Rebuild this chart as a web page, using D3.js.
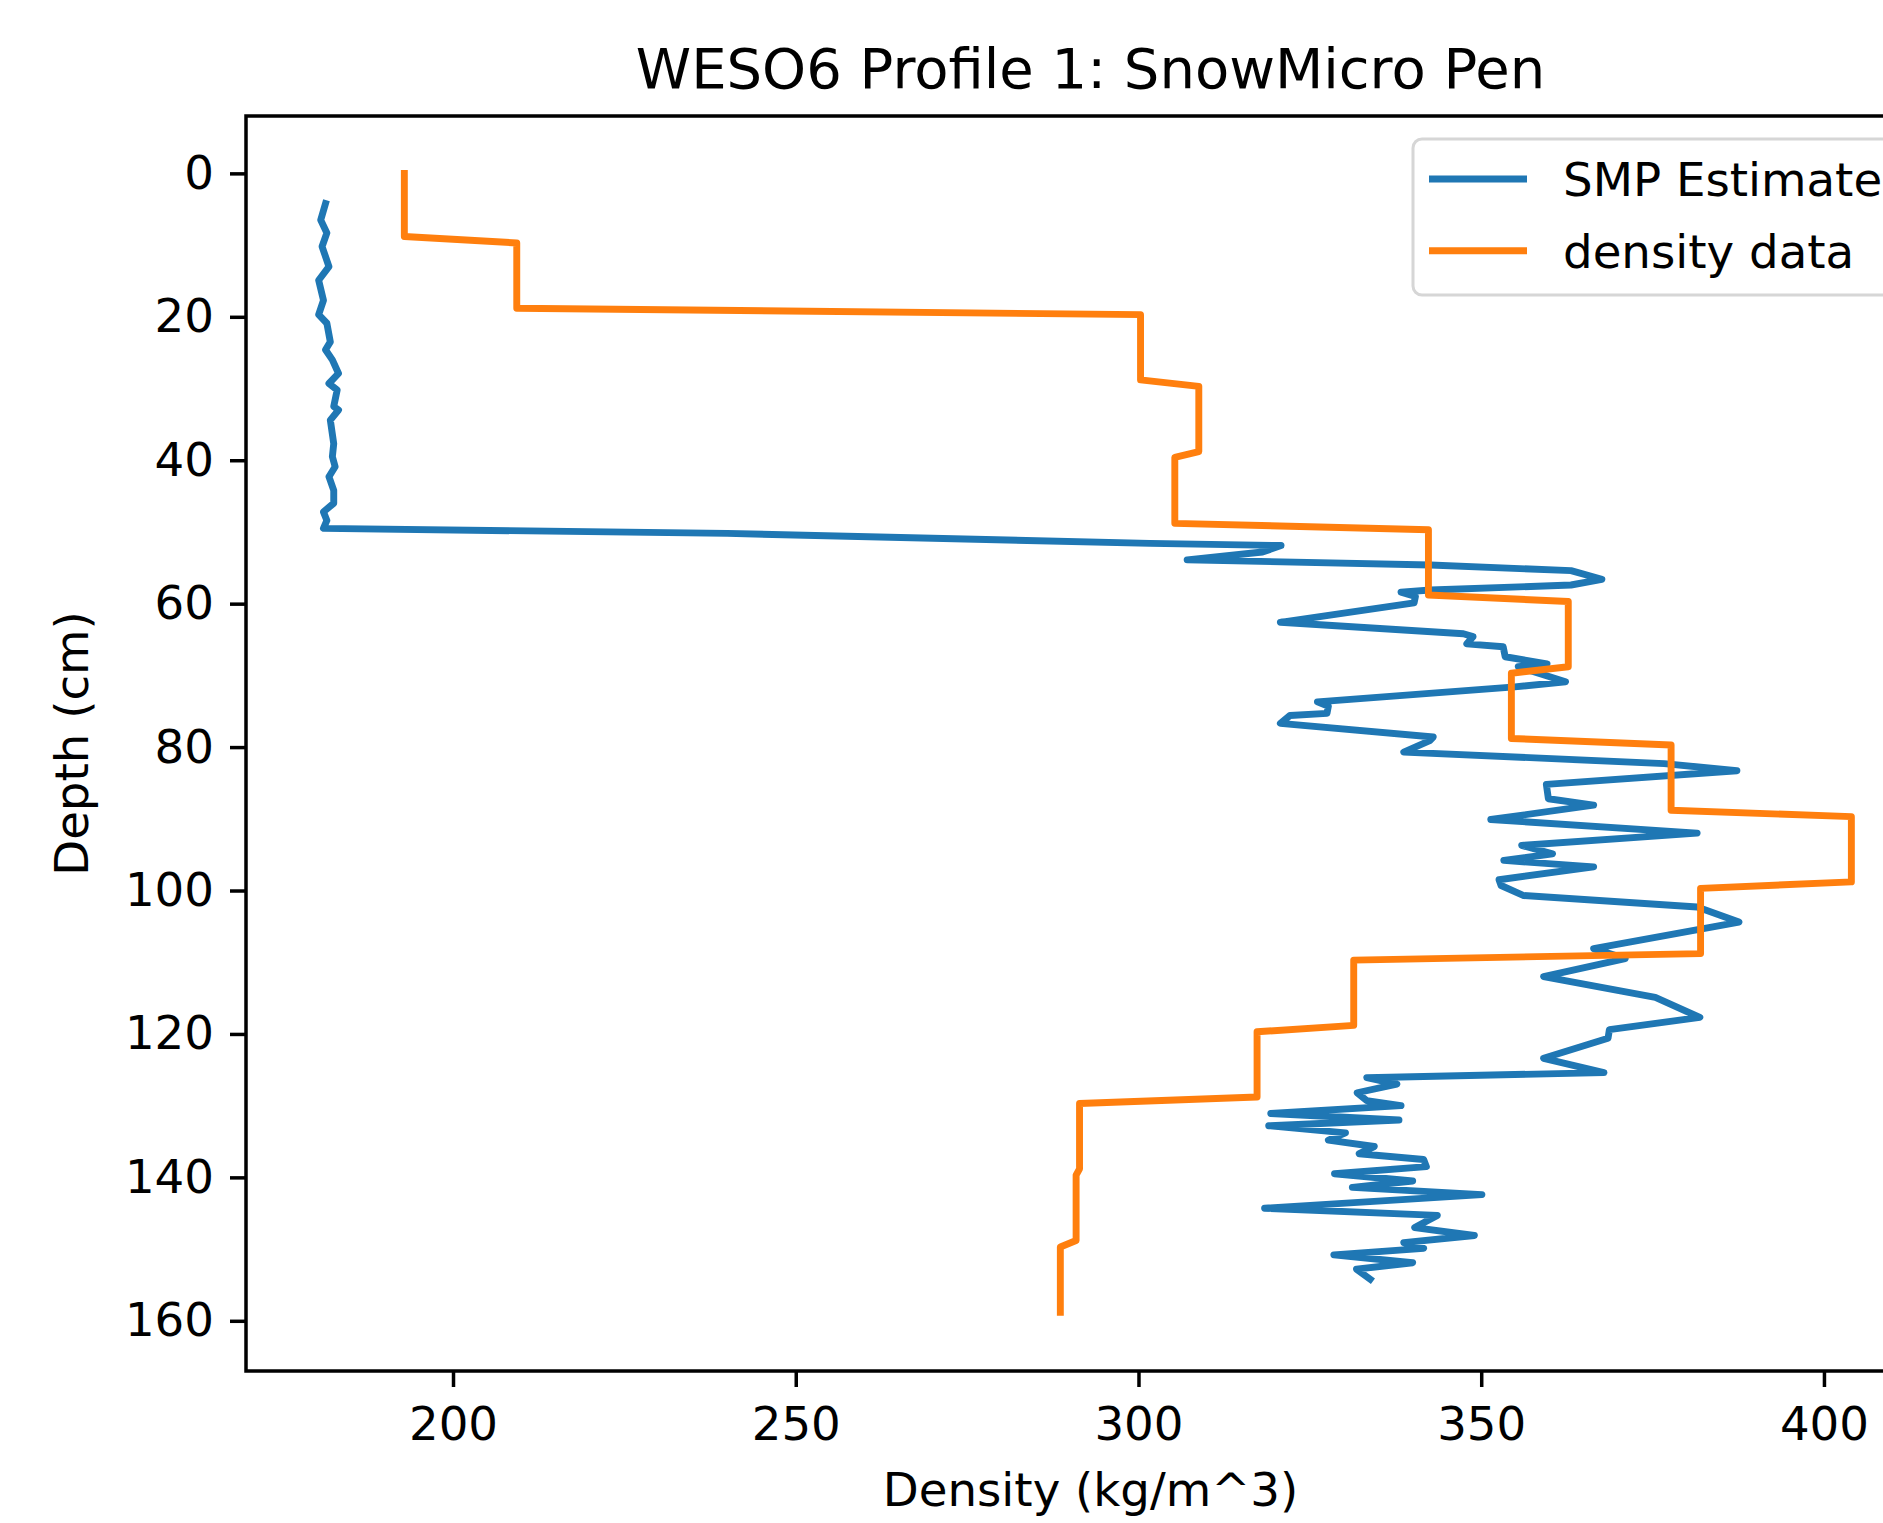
<!DOCTYPE html>
<html>
<head>
<meta charset="utf-8">
<script src="https://cdn.jsdelivr.net/npm/d3@7"></script>
<style>
  html, body { margin: 0; padding: 0; background: #ffffff; overflow: hidden; }
  svg { display: block; }
  text { font-family: "DejaVu Sans", sans-serif; fill: #000; }
</style>
</head>
<body>
<script>
// ---------- data ----------
const titleText = "WESO6 Profile 1: SnowMicro Pen";
const xLabel = "Density (kg/m^3)";
const yLabel = "Depth (cm)";
const seriesNames = ["SMP Estimate", "density data"];
const seriesColors = ["#1f77b4", "#ff7f0e"];

const xTicks = [200, 250, 300, 350, 400];
const yTicks = [0, 20, 40, 60, 80, 100, 120, 140, 160];

// SMP estimate (blue): depth (cm) and density (kg/m^3)
const smpDepth = [4.2, 6.5, 8.3, 10.2, 13.0, 14.9, 17.7, 19.7, 20.9, 23.5, 24.6, 26.0, 27.9, 29.3, 30.2, 32.5, 33.0, 34.4, 37.7, 39.5, 40.9, 42.3, 44.2, 46.0, 47.2, 48.4, 49.5,
  50.2, 51.6, 51.9, 52.8, 53.9, 54.6, 55.4, 56.6, 57.4, 58.1, 58.4, 59.0, 59.9, 62.6, 64.2, 64.6, 65.6, 66.0, 67.4, 68.4, 68.8, 70.9, 71.6, 73.7, 74.3, 75.3, 75.6, 76.7,
  78.6, 79.1, 80.7, 82.3, 83.3, 85.2, 87.2, 88.1, 90.1, 92.0, 93.7, 94.9, 95.8, 96.7, 98.5, 99.3, 100.7, 102.3, 104.4, 108.1, 109.5, 112.0, 114.9, 117.7, 119.4, 120.6, 123.4,
  125.4, 126.1, 127.0, 128.2, 129.3, 130.0, 131.1, 132.0, 132.8, 133.8, 134.8, 135.7, 136.7, 137.5, 138.5, 139.5, 140.5, 141.4, 142.4, 144.3, 145.3, 147.0, 148.1, 149.1,
  149.9, 150.8, 151.9, 152.8, 154.2];
const smpDensity = [181.4, 180.7, 181.6, 180.9, 181.9, 180.4, 181.1, 180.4, 181.6, 182.1, 181.4, 182.4, 183.3, 181.9, 183.1, 182.6, 183.3, 182.1, 182.6, 182.4, 182.8, 181.9, 182.6, 182.6, 181.1, 181.6, 181.1,
  240.0, 301.7, 320.8, 318.1, 307.1, 342.6, 363.1, 367.6, 363.1, 342.6, 338.3, 340.4, 340.2, 320.7, 347.4, 348.8, 347.9, 353.2, 353.5, 359.6, 355.4, 362.3, 354.9, 326.1, 327.7, 327.5, 322.1, 320.7,
  343.0, 342.5, 338.7, 376.7, 387.3, 359.5, 359.8, 366.4, 351.4, 381.5, 355.9, 360.4, 353.3, 366.4, 352.6, 352.9, 356.2, 381.5, 387.6, 366.4, 371.0, 359.1, 375.4, 381.9, 368.7, 368.5, 359.1,
  367.9, 333.3, 337.7, 331.9, 333.3, 338.3, 319.3, 338.0, 319.0, 330.2, 327.7, 334.4, 332.2, 341.6, 342.0, 328.6, 340.0, 331.2, 350.1, 318.4, 343.6, 340.3, 349.0, 338.7,
  341.6, 328.5, 340.0, 331.8, 333.8];

// measured density data (orange): layer top/bottom points
const densDepth = [0, 8.8, 9.7, 18.8, 19.7, 28.8, 29.7, 38.8, 39.6, 48.8, 49.7, 58.8, 59.7, 68.8, 69.7, 78.8, 79.7, 88.8, 89.7, 98.8, 99.7, 108.8, 109.7, 118.8, 119.7, 128.8, 129.7, 138.8, 139.7, 148.8, 149.7, 158.8];
const densValue = [192.9, 192.9, 209.3, 209.3, 300.3, 300.3, 308.8, 308.8, 305.3, 305.3, 342.3, 342.3, 362.7, 362.7, 354.4, 354.4, 377.7, 377.7, 404.0, 404.0, 382.0, 382.0, 331.4, 331.4, 317.3, 317.3, 291.4, 291.4, 290.9, 290.9, 288.6, 288.6];

// ---------- layout ----------
const W = 1883, H = 1523;
const plot = { left: 246, top: 116, right: 1935, bottom: 1371 };
const FS = 46.7;

const svg = d3.select("body").append("svg")
  .attr("width", W).attr("height", H)
  .attr("viewBox", `0 0 ${W} ${H}`);
svg.append("rect").attr("width", W).attr("height", H).attr("fill", "#fff");

const x = d3.scaleLinear().domain([169.8, 416.2]).range([plot.left, plot.right]);
const y = d3.scaleLinear().domain([-8.0, 167.0]).range([plot.top, plot.bottom]);

// lines
const smp = smpDepth.map((d, i) => ({ depth: d, dens: smpDensity[i] }));
const dens = densDepth.map((d, i) => ({ depth: d, dens: densValue[i] }));
const line = d3.line().x(d => x(d.dens)).y(d => y(d.depth));

const clip = svg.append("clipPath").attr("id", "clip").append("rect")
  .attr("x", plot.left).attr("y", plot.top)
  .attr("width", plot.right - plot.left).attr("height", plot.bottom - plot.top);

const g = svg.append("g").attr("clip-path", "url(#clip)");
g.append("path").datum(smp).attr("d", line)
  .attr("fill", "none").attr("stroke", seriesColors[0])
  .attr("stroke-width", 6.9).attr("stroke-linejoin", "round").attr("stroke-linecap", "square");
g.append("path").datum(dens).attr("d", line)
  .attr("fill", "none").attr("stroke", seriesColors[1])
  .attr("stroke-width", 6.9).attr("stroke-linejoin", "round").attr("stroke-linecap", "square");

// axes
const xAxis = d3.axisBottom(x).tickValues(xTicks).tickSize(16).tickSizeOuter(0).tickPadding(20);
const yAxis = d3.axisLeft(y).tickValues(yTicks).tickSize(16).tickSizeOuter(0).tickPadding(16);

const gx = svg.append("g").attr("transform", `translate(0,${plot.bottom})`).call(xAxis);
const gy = svg.append("g").attr("transform", `translate(${plot.left},0)`).call(yAxis);
[gx, gy].forEach(a => {
  a.select(".domain").remove();
  a.selectAll(".tick line").attr("stroke", "#000").attr("stroke-width", 3.5);
  a.selectAll(".tick text").attr("font-size", FS).attr("font-family", "DejaVu Sans").attr("fill", "#000");
});

// spines
svg.append("rect")
  .attr("x", plot.left).attr("y", plot.top)
  .attr("width", plot.right - plot.left).attr("height", plot.bottom - plot.top)
  .attr("fill", "none").attr("stroke", "#000").attr("stroke-width", 3.5);

// title & labels
svg.append("text").attr("x", (plot.left + plot.right) / 2).attr("y", 88)
  .attr("text-anchor", "middle").attr("font-size", 56).text(titleText);
svg.append("text").attr("x", (plot.left + plot.right) / 2).attr("y", 1506)
  .attr("text-anchor", "middle").attr("font-size", FS).text(xLabel);
svg.append("text").attr("transform", `translate(88,${(plot.top + plot.bottom) / 2}) rotate(-90)`)
  .attr("text-anchor", "middle").attr("font-size", FS).text(yLabel);

// legend
const lg = svg.append("g");
lg.append("rect").attr("x", 1413).attr("y", 139).attr("width", 500).attr("height", 156)
  .attr("rx", 9).attr("fill", "#fff").attr("fill-opacity", 0.8)
  .attr("stroke", "#d6d6d6").attr("stroke-width", 3);
seriesNames.forEach((name, i) => {
  const cy = 179 + i * 71.7;
  lg.append("line").attr("x1", 1429).attr("x2", 1527).attr("y1", cy).attr("y2", cy)
    .attr("stroke", seriesColors[i]).attr("stroke-width", 6.9);
  lg.append("text").attr("x", 1563).attr("y", cy + 17).attr("font-size", FS).text(name);
});
</script>
</body>
</html>
